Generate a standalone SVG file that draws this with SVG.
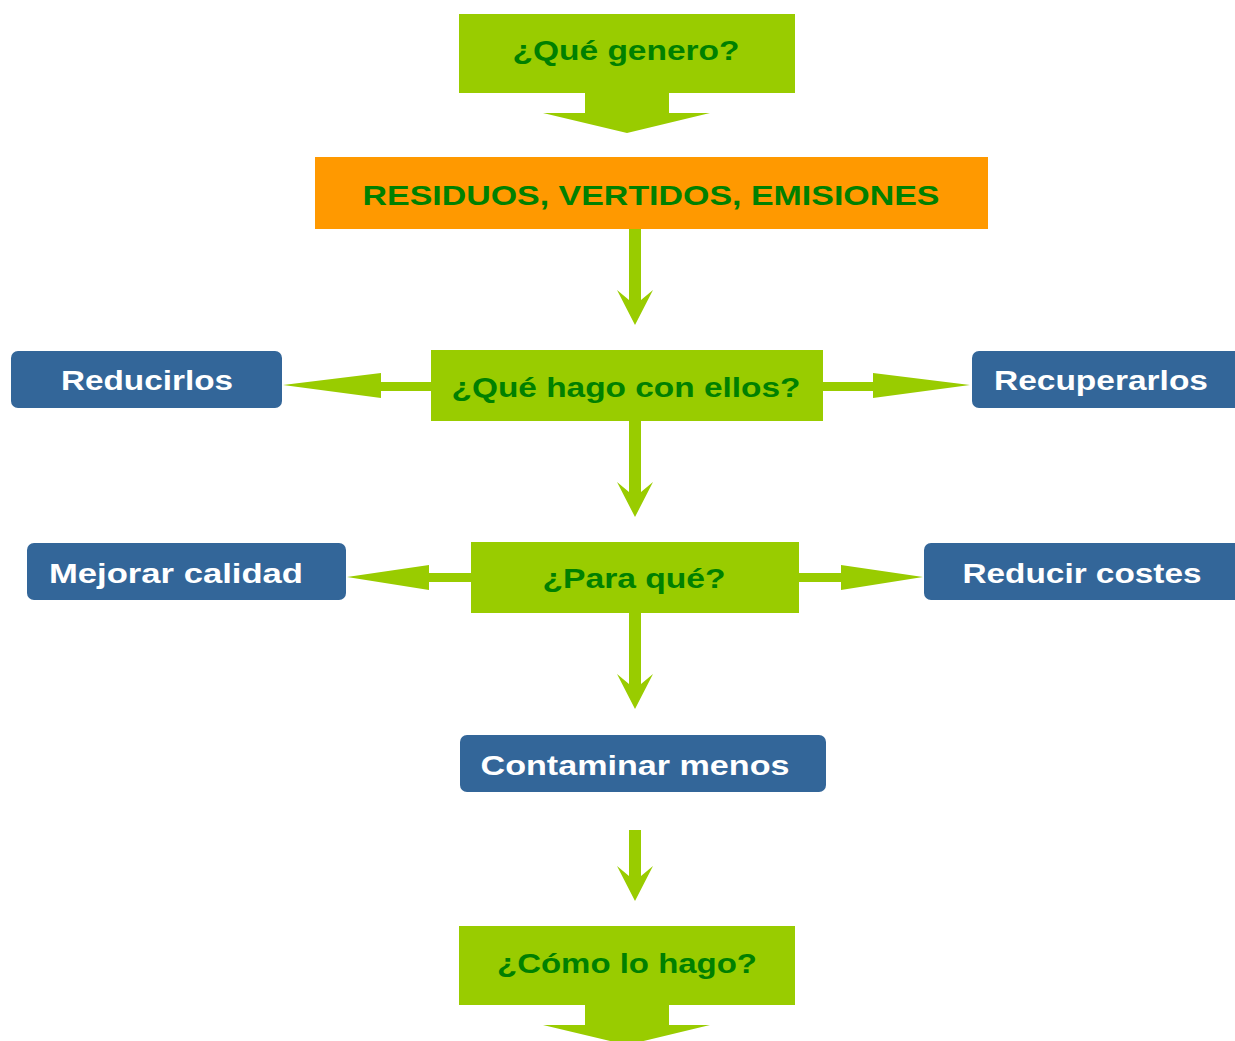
<svg xmlns="http://www.w3.org/2000/svg" width="1235" height="1041" viewBox="0 0 1235 1041">
<style>
.g{fill:#99CC00}
.o{fill:#FF9900}
.b{fill:#336699}
.t{font-family:"Liberation Sans",Arial,sans-serif;font-weight:bold;font-size:28px;text-anchor:middle}
.tg{fill:#008000}
.tw{fill:#FFFFFF}
</style>
<rect width="1235" height="1041" fill="#FFFFFF"/>
<g id="connectors" class="g">
<path d="M629,229H641V300L653,290L635,325L617,290L629,300Z"/>
<path d="M629,421H641V492L653,482L635,517L617,482L629,492Z"/>
<path d="M629,613H641V684L653,674L635,709L617,674L629,684Z"/>
<path d="M629,830H641V876L653,866L635,901L617,866L629,876Z"/>
<path d="M431,382V391H381V398L283,385L381,373V382Z"/>
<path d="M823,382V391H873V398L970,385L873,373V382Z"/>
<path d="M471,573V582H429V590L347,577L429,565V573Z"/>
<path d="M799,573V582H841V590L923,577L841,565V573Z"/>
</g>
<g id="n1">
<rect class="g" x="459" y="14" width="336" height="79"/>
<path class="g" d="M585,93H669V113H710L627,133L543,113H585Z"/>
<text class="t tg" x="626" y="60" textLength="227" lengthAdjust="spacingAndGlyphs">¿Qué genero?</text>
</g>
<g id="n2">
<rect class="o" x="315" y="157" width="673" height="72"/>
<text class="t tg" x="651" y="205" textLength="577" lengthAdjust="spacingAndGlyphs">RESIDUOS, VERTIDOS, EMISIONES</text>
</g>
<g id="n3">
<rect class="g" x="431" y="350" width="392" height="71"/>
<text class="t tg" x="626" y="397" textLength="349" lengthAdjust="spacingAndGlyphs">¿Qué hago con ellos?</text>
</g>
<g id="n4">
<rect class="b" x="11" y="351" width="271" height="57" rx="7"/>
<text class="t tw" x="147" y="390" textLength="172" lengthAdjust="spacingAndGlyphs">Reducirlos</text>
</g>
<g id="n5">
<rect class="b" x="972" y="351" width="275" height="57" rx="7"/>
<text class="t tw" x="1101" y="390" textLength="214" lengthAdjust="spacingAndGlyphs">Recuperarlos</text>
</g>
<g id="n6">
<rect class="g" x="471" y="542" width="328" height="71"/>
<text class="t tg" x="634" y="588" textLength="183" lengthAdjust="spacingAndGlyphs">¿Para qué?</text>
</g>
<g id="n7">
<rect class="b" x="27" y="543" width="319" height="57" rx="7"/>
<text class="t tw" x="176" y="583" textLength="254" lengthAdjust="spacingAndGlyphs">Mejorar calidad</text>
</g>
<g id="n8">
<rect class="b" x="924" y="543" width="323" height="57" rx="7"/>
<text class="t tw" x="1082" y="583" textLength="239" lengthAdjust="spacingAndGlyphs">Reducir costes</text>
</g>
<g id="n9">
<rect class="b" x="460" y="735" width="366" height="57" rx="7"/>
<text class="t tw" x="635" y="775" textLength="309" lengthAdjust="spacingAndGlyphs">Contaminar menos</text>
</g>
<g id="n10">
<rect class="g" x="459" y="926" width="336" height="79"/>
<path class="g" d="M585,1005H669V1025H710L627,1045L543,1025H585Z"/>
<text class="t tg" x="627" y="973" textLength="260" lengthAdjust="spacingAndGlyphs">¿Cómo lo hago?</text>
</g>
</svg>
